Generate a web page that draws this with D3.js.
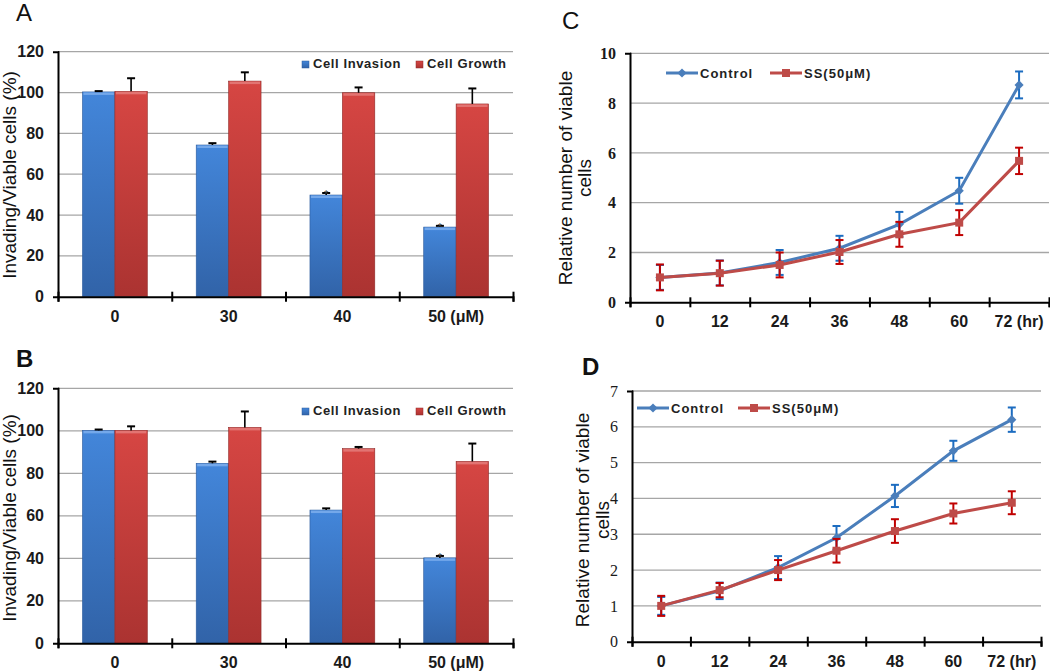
<!DOCTYPE html>
<html><head><meta charset="utf-8">
<script src="https://cdn.jsdelivr.net/npm/d3@7"></script>
<style>body{margin:0;background:#fff} svg{display:block}</style>
</head><body><svg id="c" width="1050" height="671"></svg>
<script>
// ---------- DATA ----------
const doses = ["0", "30", "40", "50 (μM)"];
const barSeries = ["Cell Invasion", "Cell Growth"];
const barTicks = [0, 20, 40, 60, 80, 100, 120];

const invasionA = [100.3, 74.3, 49.8, 34.1];
const invasionAErr = [0.4, 0.9, 1.0, 0.6];
const growthA = [100.6, 105.6, 99.9, 94.4];
const growthAErr = [6.4, 4.3, 2.6, 7.6];
const starsA = [false, false, true, true];

const invasionB = [100.2, 84.7, 62.7, 40.2];
const invasionBErr = [0.4, 0.8, 0.8, 0.9];
const growthB = [100.2, 101.6, 91.6, 85.6];
const growthBErr = [1.9, 7.5, 0.8, 8.4];
const starsB = [false, false, false, true];

const hours = ["0", "12", "24", "36", "48", "60", "72 (hr)"];
const lineSeries = ["Control", "SS(50μM)"];
const ticksC = [0, 2, 4, 6, 8, 10];
const ticksD = [0, 1, 2, 3, 4, 5, 6, 7];

const controlC = [1.0, 1.18, 1.6, 2.17, 3.13, 4.48, 8.73];
const controlCErr = [0.5, 0.5, 0.5, 0.5, 0.5, 0.52, 0.54];
const ssC = [1.0, 1.17, 1.5, 2.02, 2.73, 3.2, 5.68];
const ssCErr = [0.52, 0.5, 0.5, 0.48, 0.5, 0.5, 0.53];

const controlD = [1.0, 1.42, 2.07, 2.9, 4.07, 5.33, 6.2];
const controlDErr = [0.25, 0.23, 0.32, 0.33, 0.31, 0.28, 0.34];
const ssD = [1.0, 1.44, 2.0, 2.54, 3.09, 3.58, 3.88];
const ssDErr = [0.28, 0.2, 0.28, 0.33, 0.33, 0.28, 0.32];

// ---------- STYLE ----------
const tickFont = "'Liberation Sans Narrow', 'Arial Narrow', Arial, sans-serif";
const serifFont = "'Liberation Serif', 'Times New Roman', serif";
const svg = d3.select("#c");
const defs = svg.append("defs");
function grad(id, c1, c2) {
  const g = defs.append("linearGradient").attr("id", id).attr("x1", 0).attr("y1", 0).attr("x2", 0).attr("y2", 1);
  g.append("stop").attr("offset", "0%").attr("stop-color", c1);
  g.append("stop").attr("offset", "100%").attr("stop-color", c2);
}
grad("gBlue", "#4386da", "#3163a8");
grad("gRed", "#d64643", "#ab3331");
const barFill = {"Cell Invasion": "url(#gBlue)", "Cell Growth": "url(#gRed)"};
const barTop = {"Cell Invasion": "#74a8ea", "Cell Growth": "#e27472"};
const barEdge = {"Cell Invasion": "#2c5b9c", "Cell Growth": "#8f2a28"};
const lineColor = {"Control": "#4a7ebb", "SS(50μM)": "#be4b48"};
const errColor = {"Control": "#1c6cc0", "SS(50μM)": "#c00000"};

function panelLabel(t, x, y, bold) {
  svg.append("text").attr("x", x).attr("y", y).text(t)
    .attr("font-family", "Arial, 'Liberation Sans', sans-serif")
    .attr("font-size", 24).attr("font-weight", bold ? "bold" : "normal").attr("fill", "#111");
}

function yAxis(g, y, ticks, x0, font, weight) {
  const ax = g.append("g").attr("transform", `translate(${x0},0)`)
    .call(d3.axisLeft(y).tickValues(ticks).tickFormat(d3.format("d")).tickSizeOuter(0).tickSize(5).tickPadding(9));
  ax.select(".domain").attr("stroke", "#000").attr("stroke-width", 2);
  ax.selectAll(".tick line").attr("stroke", "#000").attr("stroke-width", 2).attr("x2", 1);
  ax.selectAll(".tick text").attr("font-family", font).attr("font-size", 16)
    .attr("font-weight", weight).attr("fill", "#1a1a1a");
}

function xAxis(g, cats, xr, yBase) {
  const xb = d3.scaleLinear().domain([0, cats.length]).range(xr);
  const ax = g.append("g").attr("transform", `translate(0,${yBase})`)
    .call(d3.axisBottom(xb).tickValues(d3.range(cats.length + 1)).tickFormat("").tickSizeOuter(0).tickSize(5));
  ax.select(".domain").attr("stroke", "#000").attr("stroke-width", 2);
  ax.selectAll(".tick line").attr("stroke", "#000").attr("stroke-width", 2).attr("y1", -5).attr("y2", 5);
  const xc = d3.scaleBand().domain(cats).range(xr);
  const lab = g.append("g").attr("transform", `translate(0,${yBase})`)
    .call(d3.axisBottom(xc).tickSize(0).tickPadding(0));
  lab.select(".domain").remove();
  lab.selectAll(".tick text").attr("dy", 0).attr("y", 25)
    .attr("font-family", tickFont).attr("font-size", 16)
    .attr("font-weight", "bold").attr("fill", "#1a1a1a");
}

function grid(g, y, ticks, xr) {
  g.selectAll(null).data(ticks.slice(1)).join("line")
    .attr("x1", xr[0]).attr("x2", xr[1]).attr("y1", d => y(d)).attr("y2", d => y(d))
    .attr("stroke", "#a6a6a6").attr("stroke-width", 1.3);
}

function yTitle(lines, cx, cy, gap) {
  const t = svg.append("text").attr("transform", `translate(${cx},${cy}) rotate(-90)`)
    .attr("text-anchor", "middle").attr("font-family", "Arial, 'Liberation Sans', sans-serif")
    .attr("font-size", 19).attr("fill", "#111");
  lines.forEach((l, i) => t.append("tspan").attr("x", 0).attr("y", i * gap).text(l));
}

// ---------- BAR PANELS ----------
function barPanel(o) {
  const g = svg.append("g");
  const x0 = d3.scaleBand().domain(doses).range(o.xr).paddingInner(0.43).paddingOuter(0.215);
  const x1 = d3.scaleBand().domain(barSeries).range([0, x0.bandwidth()]);
  const y = d3.scaleLinear().domain([0, 120]).range(o.yr);
  grid(g, y, barTicks, o.xr);
  const data = doses.map((d, i) => ({
    dose: d, star: o.stars[i],
    vals: [{s: barSeries[0], v: o.inv[i], e: o.invErr[i]}, {s: barSeries[1], v: o.gro[i], e: o.groErr[i]}]
  }));
  const cg = g.selectAll(null).data(data).join("g").attr("transform", d => `translate(${x0(d.dose)},0)`);
  const b = cg.selectAll(null).data(d => d.vals).join("g");
  b.append("rect").attr("x", d => x1(d.s)).attr("width", x1.bandwidth())
    .attr("y", d => y(d.v)).attr("height", d => y(0) - y(d.v))
    .attr("fill", d => barFill[d.s]).attr("stroke", d => barEdge[d.s]).attr("stroke-width", 0.6);
  b.append("rect").attr("x", d => x1(d.s) + 1).attr("width", x1.bandwidth() - 2)
    .attr("y", d => y(d.v) + 0.5).attr("height", 2.5).attr("fill", d => barTop[d.s]);
  // error bars (upper only)
  b.append("line").attr("x1", d => x1(d.s) + x1.bandwidth() / 2).attr("x2", d => x1(d.s) + x1.bandwidth() / 2)
    .attr("y1", d => y(d.v)).attr("y2", d => y(d.v + d.e)).attr("stroke", "#000").attr("stroke-width", 1.6);
  b.append("line").attr("x1", d => x1(d.s) + x1.bandwidth() / 2 - 4).attr("x2", d => x1(d.s) + x1.bandwidth() / 2 + 4)
    .attr("y1", d => y(d.v + d.e)).attr("y2", d => y(d.v + d.e)).attr("stroke", "#000").attr("stroke-width", 2);
  cg.filter(d => d.star).append("text")
    .attr("x", x1(barSeries[0]) + x1.bandwidth() / 2)
    .attr("y", d => y(d.vals[0].v + d.vals[0].e) + 5)
    .attr("text-anchor", "middle").attr("font-family", "Arial, sans-serif").attr("font-size", 11)
    .attr("fill", "#444").text("*");
  yAxis(g, y, barTicks, o.xr[0], tickFont, "bold");
  xAxis(g, doses, o.xr, o.yr[0]);
  // legend
  const lg = g.append("g").attr("transform", `translate(${o.legend[0]},${o.legend[1]})`);
  const items = lg.selectAll(null).data(barSeries).join("g")
    .attr("transform", (d, i) => `translate(${i * 114},0)`);
  items.append("rect").attr("x", 0).attr("y", -7).attr("width", 7).attr("height", 7)
    .attr("fill", d => barFill[d]).attr("stroke", d => barEdge[d]).attr("stroke-width", 0.5);
  items.append("text").attr("x", 11).attr("y", 0).text(d => d)
    .attr("font-family", "Arial, 'Liberation Sans', sans-serif").attr("font-size", 13)
    .attr("font-weight", "bold").attr("letter-spacing", 0.6).attr("fill", "#222");
}

barPanel({xr: [58, 513], yr: [296.7, 51.7], inv: invasionA, invErr: invasionAErr, gro: growthA, groErr: growthAErr, stars: starsA, legend: [302, 68]});
barPanel({xr: [58, 513], yr: [643.3, 388.3], inv: invasionB, invErr: invasionBErr, gro: growthB, groErr: growthBErr, stars: starsB, legend: [302, 415]});

// ---------- LINE PANELS ----------
function linePanel(o) {
  const g = svg.append("g");
  const x = d3.scaleBand().domain(hours).range(o.xr);
  const cx = h => x(h) + x.bandwidth() / 2;
  const y = d3.scaleLinear().domain([0, o.ticks[o.ticks.length - 1]]).range(o.yr);
  grid(g, y, o.ticks, [o.xr[0], o.gridEnd]);
  const series = [
    {name: lineSeries[0], vals: o.ctrl, errs: o.ctrlErr, sym: "diamond"},
    {name: lineSeries[1], vals: o.ss, errs: o.ssErr, sym: "square"}
  ];
  const line = d3.line().x(d => cx(d.h)).y(d => y(d.v));
  series.forEach(s => {
    const pts = hours.map((h, i) => ({h, v: s.vals[i], e: s.errs[i]}));
    const sg = g.append("g");
    sg.append("path").datum(pts).attr("d", line).attr("fill", "none")
      .attr("stroke", lineColor[s.name]).attr("stroke-width", 3);
    const eg = sg.selectAll(null).data(pts).join("g");
    eg.append("line").attr("x1", d => cx(d.h)).attr("x2", d => cx(d.h))
      .attr("y1", d => y(d.v - d.e)).attr("y2", d => y(d.v + d.e))
      .attr("stroke", errColor[s.name]).attr("stroke-width", 2);
    [-1, 1].forEach(k => {
      eg.append("line").attr("x1", d => cx(d.h) - 4).attr("x2", d => cx(d.h) + 4)
        .attr("y1", d => y(d.v + k * d.e)).attr("y2", d => y(d.v + k * d.e))
        .attr("stroke", errColor[s.name]).attr("stroke-width", 2);
    });
    const sym = s.sym === "diamond"
      ? d3.symbol(d3.symbolSquare, 42) : d3.symbol(d3.symbolSquare, 64);
    sg.selectAll(null).data(pts).join("path").attr("d", sym)
      .attr("transform", d => `translate(${cx(d.h)},${y(d.v)})` + (s.sym === "diamond" ? " rotate(45)" : ""))
      .attr("fill", lineColor[s.name]);
  });
  yAxis(g, y, o.ticks, o.xr[0], serifFont, o.tickWeight);
  xAxis(g, hours, o.xr, o.yr[0]);
  // legend
  const lg = g.append("g").attr("transform", `translate(${o.legend[0]},${o.legend[1]})`);
  const items = lg.selectAll(null).data(series).join("g")
    .attr("transform", (d, i) => `translate(${i * o.legendStep},0)`);
  items.append("line").attr("x1", 0).attr("x2", 32).attr("y1", 0).attr("y2", 0)
    .attr("stroke", d => lineColor[d.name]).attr("stroke-width", 3);
  items.append("path").attr("d", d => d.sym === "diamond" ? d3.symbol(d3.symbolSquare, 42)() : d3.symbol(d3.symbolSquare, 64)())
    .attr("transform", d => "translate(16,0)" + (d.sym === "diamond" ? " rotate(45)" : ""))
    .attr("fill", d => lineColor[d.name]);
  items.append("text").attr("x", 34).attr("y", 5).text(d => d.name)
    .attr("font-family", "Arial, 'Liberation Sans', sans-serif").attr("font-size", 13)
    .attr("font-weight", "bold").attr("letter-spacing", 1).attr("fill", "#222");
}

linePanel({xr: [630, 1049], gridEnd: 1049, yr: [302.3, 53.3], ticks: ticksC, ctrl: controlC, ctrlErr: controlCErr, ss: ssC, ssErr: ssCErr, legend: [666, 73], legendStep: 104, tickWeight: "bold"});
linePanel({xr: [632, 1041], gridEnd: 1041, yr: [641.7, 391], ticks: ticksD, ctrl: controlD, ctrlErr: controlDErr, ss: ssD, ssErr: ssDErr, legend: [637, 408], legendStep: 101, tickWeight: "normal"});

// ---------- TITLES ----------
yTitle(["Invading/Viable cells (%)"], 16, 175, 0);
yTitle(["Invading/Viable cells (%)"], 16, 518, 0);
yTitle(["Relative number of viable", "cells"], 572, 178, 19);
yTitle(["Relative number of viable", "cells"], 589, 520, 20);

panelLabel("A", 16, 21, false);
panelLabel("B", 16, 367, true);
panelLabel("C", 562, 29, false);
panelLabel("D", 582, 375, true);
</script></body></html>
